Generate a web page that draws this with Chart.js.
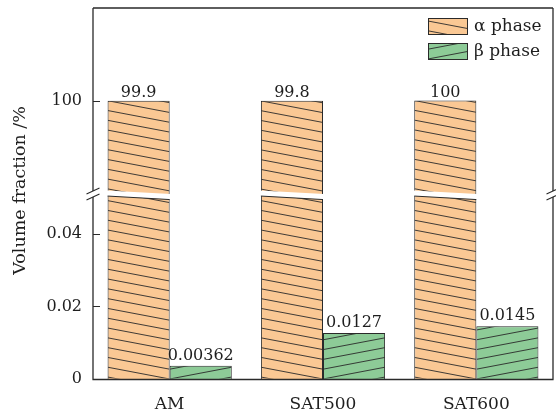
<!DOCTYPE html>
<html>
<head>
<meta charset="utf-8">
<script src="https://cdn.jsdelivr.net/npm/chart.js@4.4.1/dist/chart.umd.min.js"></script>
<style>
  html, body { margin: 0; padding: 0; background: #fff; }
  #wrap { width: 556px; height: 415px; }
</style>
</head>
<body>
<div id="wrap"><canvas id="chart" width="556" height="415"></canvas></div>
<script>
// Phase volume fractions (%) per sample condition
const categories = ['AM', 'SAT500', 'SAT600'];
const alphaPhase = [99.9, 99.8, 100];
const betaPhase = [0.00362, 0.0127, 0.0145];
const seriesNames = ['α phase', 'β phase'];

// Broken value axis: an upper band around 100 and a lower band near zero
const upperTicks = [100];
const lowerTicks = [0, 0.02, 0.04];
const upperRange = [50, 150];
const lowerRange = [0, 0.05123];

const ORANGE = '#FAC894';
const GREEN = '#8DCB97';
const INK = '#2a2a2a';
const SERIF = '"DejaVu Serif", serif';
const HATCH_SLOPE = 0.19;
const HATCH_GAP = 9.8;

// Draws parallel hatch lines y = ay + k*gap + slope*(x - ax) inside a box
function hatch(ctx, l, t, r, b, ax, ay, slope) {
  ctx.save();
  ctx.beginPath();
  ctx.rect(l + 0.5, t + 0.5, r - l - 1, b - t - 1);
  ctx.clip();
  ctx.strokeStyle = INK;
  ctx.lineWidth = 0.9;
  ctx.beginPath();
  for (let k = -400; k <= 400; k++) {
    const yl = ay + k * HATCH_GAP + slope * (l - ax);
    const yr = ay + k * HATCH_GAP + slope * (r - ax);
    if (Math.max(yl, yr) < t || Math.min(yl, yr) > b) continue;
    ctx.moveTo(l, yl);
    ctx.lineTo(r, yr);
  }
  ctx.stroke();
  ctx.restore();
}

function drawHatchFor(ctx, kind, l, t, r, b) {
  if (kind === 'alphaUpper') hatch(ctx, l, t, r, b, l, t, HATCH_SLOPE);
  else if (kind === 'alphaLower') hatch(ctx, l, t, r, b, r, b, HATCH_SLOPE);
  else if (kind === 'beta') hatch(ctx, l, t, r, b, l, b, -HATCH_SLOPE);
}

const brokenAxisPlugin = {
  id: 'brokenAxis',
  beforeDatasetDraw(chart, args) {
    // keep each dataset inside its own band of the stacked value axis
    const ys = chart.scales[args.meta.yAxisID];
    const a = chart.chartArea;
    const ctx = chart.ctx;
    ctx.save();
    ctx.beginPath();
    ctx.rect(a.left, ys.top, a.right - a.left, ys.bottom - ys.top);
    ctx.clip();
  },
  afterDatasetDraw(chart, args) {
    const ctx = chart.ctx;
    const ds = chart.data.datasets[args.index];
    args.meta.data.forEach(el => {
      const p = el.getProps(['x', 'y', 'base', 'width'], true);
      const l = p.x - p.width / 2, r = p.x + p.width / 2;
      const t = Math.min(p.y, p.base), b = Math.max(p.y, p.base);
      drawHatchFor(ctx, ds.hatch, l, t, r, b);
    });
    ctx.restore();
  },
  afterDatasetsDraw(chart) {
    const ctx = chart.ctx;
    const yUp = chart.scales.yUp;
    const B = yUp.bottom;
    const g = 3.5 / 62;

    // slanted white gap across the alpha bars at the axis break
    chart.getDatasetMeta(0).data.forEach(el => {
      const p = el.getProps(['x', 'width'], true);
      const l = p.x - p.width / 2 - 1, r = p.x + p.width / 2 + 1;
      ctx.save();
      ctx.fillStyle = '#fff';
      ctx.beginPath();
      ctx.moveTo(l, B - 2.5);
      ctx.lineTo(r, B - 2.5 + g * (r - l));
      ctx.lineTo(r, B + 3 + g * (r - l));
      ctx.lineTo(l, B + 3);
      ctx.closePath();
      ctx.fill();
      ctx.strokeStyle = INK;
      ctx.lineWidth = 1;
      ctx.beginPath();
      ctx.moveTo(l + 1, B + 3 + g);
      ctx.lineTo(r - 1, B + 3 + g * (r - l - 1));
      ctx.stroke();
      ctx.restore();
    });

    // value labels above bars
    ctx.save();
    ctx.fillStyle = '#1e1e1e';
    ctx.font = '16px ' + SERIF;
    ctx.textAlign = 'center';
    ctx.textBaseline = 'alphabetic';
    chart.getDatasetMeta(0).data.forEach((el, i) => {
      ctx.fillText(String(alphaPhase[i]), el.x, el.y - 4);
    });
    chart.getDatasetMeta(2).data.forEach((el, i) => {
      ctx.fillText(String(betaPhase[i]), el.x, el.y - 6);
    });
    ctx.restore();
  },
  afterDraw(chart) {
    const ctx = chart.ctx;
    const a = chart.chartArea;
    const B = chart.scales.yUp.bottom;
    ctx.save();
    ctx.strokeStyle = INK;
    ctx.lineWidth = 1.3;
    ctx.lineCap = 'butt';

    // frame with breaks on both vertical sides
    ctx.beginPath();
    ctx.moveTo(a.left, a.top);
    ctx.lineTo(a.right, a.top);
    ctx.moveTo(a.left - 0.6, a.bottom + 0.5);
    ctx.lineTo(a.right + 0.6, a.bottom + 0.5);
    [a.left, a.right].forEach(x => {
      ctx.moveTo(x, a.top);
      ctx.lineTo(x, B - 2);
      ctx.moveTo(x, B + 4);
      ctx.lineTo(x, a.bottom + 0.5);
    });
    ctx.stroke();

    // break marks
    ctx.lineWidth = 1.1;
    ctx.beginPath();
    [a.left, a.right].forEach(x => {
      [B - 2, B + 4].forEach(y => {
        ctx.moveTo(x - 6.5, y + 3);
        ctx.lineTo(x + 6.5, y - 3);
      });
    });
    ctx.stroke();

    // inward tick marks
    ctx.lineWidth = 1.1;
    ctx.beginPath();
    ['yUp', 'yLow'].forEach(id => {
      const s = chart.scales[id];
      s.ticks.forEach(tk => {
        const y = Math.round(s.getPixelForValue(tk.value)) + 0.5;
        if (y > a.bottom - 1) return;
        ctx.moveTo(a.left, y);
        ctx.lineTo(a.left + 7, y);
      });
    });
    ctx.stroke();

    // value axis title
    ctx.fillStyle = '#1e1e1e';
    ctx.font = '17.5px ' + SERIF;
    ctx.textAlign = 'center';
    ctx.textBaseline = 'middle';
    ctx.translate(20, (a.top + a.bottom) / 2 - 3);
    ctx.rotate(-Math.PI / 2);
    ctx.fillText('Volume fraction /%', 0, 0);
    ctx.restore();

    // legend
    ctx.save();
    const bx = a.right - 125, bw = 40, bh = 17;
    const entries = [
      { name: seriesNames[0], fill: ORANGE, kind: 'legendAlpha', y: a.top + 10 },
      { name: seriesNames[1], fill: GREEN, kind: 'legendBeta', y: a.top + 35 }
    ];
    entries.forEach(e => {
      ctx.fillStyle = e.fill;
      ctx.fillRect(bx, e.y, bw, bh);
      if (e.kind === 'legendAlpha') hatch(ctx, bx, e.y, bx + bw, e.y + bh, bx, e.y + 3, HATCH_SLOPE);
      else hatch(ctx, bx, e.y, bx + bw, e.y + bh, bx, e.y + bh - 1, -HATCH_SLOPE);
      ctx.strokeStyle = INK;
      ctx.lineWidth = 1;
      ctx.strokeRect(bx + 0.5, e.y + 0.5, bw - 1, bh - 1);
      ctx.fillStyle = '#1e1e1e';
      ctx.font = '17px ' + SERIF;
      ctx.textAlign = 'left';
      ctx.textBaseline = 'middle';
      ctx.fillText(e.name, bx + bw + 6, e.y + bh / 2);
    });
    ctx.restore();
  }
};

const barStyle = { borderColor: INK, borderWidth: 1, borderSkipped: 'start' };

// value-axis bands carry no label overflow padding of their own
function fitValueAxis(s) {
  s.width = 93;
  s.paddingTop = 0;
  s.paddingBottom = 0;
}

new Chart(document.getElementById('chart'), {
  type: 'bar',
  data: {
    labels: categories,
    datasets: [
      Object.assign({ label: seriesNames[0], data: alphaPhase, yAxisID: 'yUp', stack: 'alpha',
        backgroundColor: ORANGE, hatch: 'alphaUpper' }, barStyle),
      Object.assign({ label: seriesNames[0], data: alphaPhase, yAxisID: 'yLow', stack: 'alpha',
        backgroundColor: ORANGE, hatch: 'alphaLower' }, barStyle),
      Object.assign({ label: seriesNames[1], data: betaPhase, yAxisID: 'yLow', stack: 'beta',
        backgroundColor: GREEN, hatch: 'beta' }, barStyle)
    ]
  },
  options: {
    responsive: false,
    animation: false,
    devicePixelRatio: 1,
    categoryPercentage: 0.81,
    barPercentage: 1,
    layout: { padding: { top: 8, right: 3, left: 0, bottom: 0 } },
    plugins: { legend: { display: false }, tooltip: { enabled: false } },
    scales: {
      x: {
        grid: { display: false, drawTicks: false },
        border: { display: false },
        ticks: { color: '#1e1e1e', font: { family: SERIF, size: 17 }, padding: 15 },
        afterFit(s) { s.height = 36; s.paddingLeft = 0; s.paddingRight = 0; }
      },
      yLow: {
        type: 'linear',
        position: 'left',
        stack: 'value',
        stackWeight: 186,
        stacked: false,
        min: lowerRange[0],
        max: lowerRange[1],
        grid: { display: false, drawTicks: false },
        border: { display: false },
        ticks: { color: '#1e1e1e', font: { family: SERIF, size: 16 }, padding: 11,
          callback: v => String(v) },
        afterBuildTicks(s) { s.ticks = lowerTicks.map(v => ({ value: v })); },
        afterFit: fitValueAxis
      },
      yUp: {
        type: 'linear',
        position: 'left',
        stack: 'value',
        stackWeight: 185,
        stacked: false,
        min: upperRange[0],
        max: upperRange[1],
        grid: { display: false, drawTicks: false },
        border: { display: false },
        ticks: { color: '#1e1e1e', font: { family: SERIF, size: 16 }, padding: 11,
          callback: v => String(v) },
        afterBuildTicks(s) { s.ticks = upperTicks.map(v => ({ value: v })); },
        afterFit: fitValueAxis
      }
    }
  },
  plugins: [brokenAxisPlugin]
});
</script>
</body>
</html>
